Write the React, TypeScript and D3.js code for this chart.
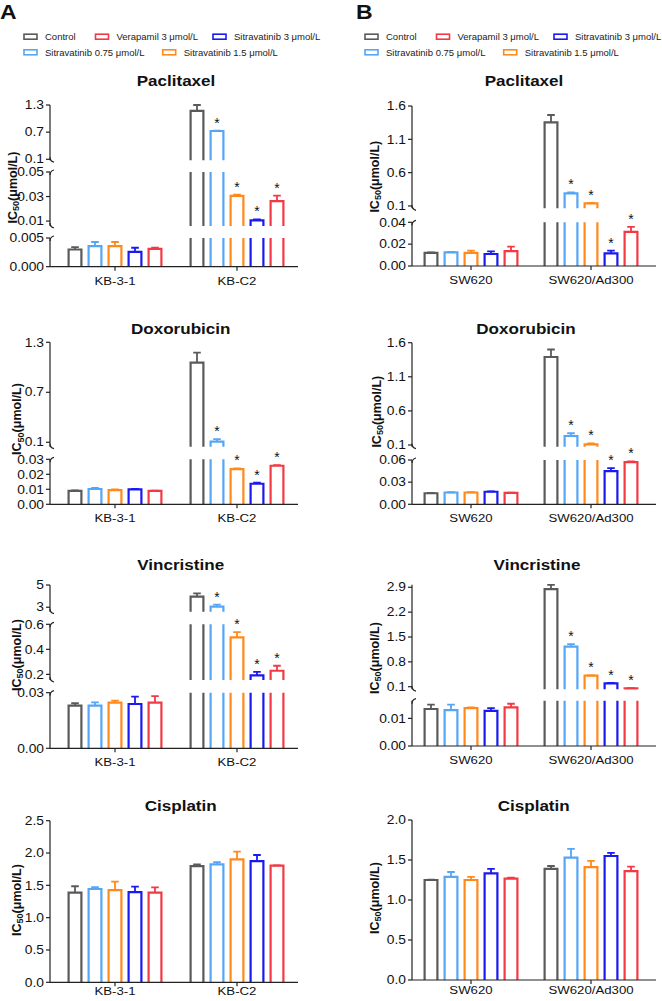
import React from 'react';
import * as d3 from 'd3';

// ---------- data ----------
const series = ['Control', 'Sitravatinib 0.75 μmol/L', 'Sitravatinib 1.5 μmol/L', 'Sitravatinib 3 μmol/L', 'Verapamil 3 μmol/L'];
const seriesColors = ['#5a5a5a', '#55a6f5', '#ff8a1c', '#1a1af0', '#f23a45'];
const groupsA = ['KB-3-1', 'KB-C2'];
const groupsB = ['SW620', 'SW620/Ad300'];
const drugs = ['Paclitaxel', 'Doxorubicin', 'Vincristine', 'Cisplatin'];

// values [group][series]
const pacA = [[0.0030, 0.0036, 0.0036, 0.0026, 0.0031], [1.17, 0.725, 0.0305, 0.0106, 0.0262]];
const pacAErr = [[0.0004, 0.0007, 0.0007, 0.0007, 0.0002], [0.14, 0.01, 0.001, 0.0008, 0.0046]];
const pacB = [[0.0121, 0.0125, 0.0121, 0.011, 0.0137], [1.355, 0.29, 0.14, 0.0116, 0.0313]];
const pacBErr = [[0.0003, 0.0003, 0.002, 0.0024, 0.004], [0.11, 0.015, 0.005, 0.0024, 0.0046]];
const doxA = [[0.0089, 0.0102, 0.0095, 0.0100, 0.0089], [1.055, 0.107, 0.0235, 0.0137, 0.0257]];
const doxAErr = [[0.0003, 0.0008, 0.0004, 0.0003, 0.0002], [0.12, 0.03, 0.0005, 0.0007, 0.0004]];
const doxB = [[0.015, 0.016, 0.016, 0.017, 0.0155], [1.39, 0.232, 0.11, 0.045, 0.057]];
const doxBErr = [[0.0003, 0.0003, 0.0003, 0.0004, 0.0002], [0.11, 0.04, 0.012, 0.004, 0.0012]];
const vinA = [[0.023, 0.023, 0.0246, 0.0239, 0.0246], [3.95, 3.05, 0.496, 0.192, 0.229]];
const vinAErr = [[0.0013, 0.0018, 0.0011, 0.004, 0.0035], [0.3, 0.18, 0.042, 0.028, 0.04]];
const vinB = [[0.0134, 0.013, 0.0137, 0.0127, 0.014], [2.85, 1.23, 0.41, 0.196, 0.055]];
const vinBErr = [[0.0016, 0.002, 0.0003, 0.001, 0.0013], [0.12, 0.07, 0.01, 0.01, 0.003]];
const cisA = [[1.386, 1.443, 1.427, 1.396, 1.386], [1.798, 1.825, 1.902, 1.876, 1.804]];
const cisAErr = [[0.1, 0.03, 0.13, 0.083, 0.083], [0.027, 0.035, 0.12, 0.093, 0.005]];
const cisB = [[1.25, 1.29, 1.25, 1.333, 1.266], [1.39, 1.53, 1.41, 1.55, 1.362]];
const cisBErr = [[0.005, 0.06, 0.04, 0.057, 0.014], [0.035, 0.11, 0.08, 0.04, 0.054]];

// significance stars: [group][series]
const starsResistant = [[0, 0, 0, 0, 0], [0, 1, 1, 1, 1]];
const starsNone = [[0, 0, 0, 0, 0], [0, 0, 0, 0, 0]];

// ---------- layout ----------
const FONT = '"Liberation Sans", Arial, Helvetica, sans-serif';
const SX = 1.15;

type Seg = { domain: [number, number]; range: [number, number]; ticks: number[]; fmt: string };
type PanelCfg = {
  title: string; titleX: number; titleY: number; ylabX: number; ylabY: number;
  values: number[][]; errs: number[][]; stars: number[][]; catDy: number; segs: Seg[];
};

const colA = { groups: groupsA, x0: 50, x1: 298, centers: [115, 237] as [number, number] };
const colB = { groups: groupsB, x0: 412, x1: 656, centers: [471, 591] as [number, number] };

const panelsA: PanelCfg[] = [
  {
    title: drugs[0], titleX: 176, titleY: 80.7, ylabX: 12, ylabY: 187.5, values: pacA, errs: pacAErr, stars: starsResistant, catDy: 14,
    segs: [
      { domain: [0, 0.005], range: [266.7, 238], ticks: [0, 0.005], fmt: '.3f' },
      { domain: [0.006, 0.05], range: [226, 172], ticks: [0.01, 0.03, 0.05], fmt: '.2f' },
      { domain: [0.08, 1.3], range: [160.2, 105], ticks: [0.1, 0.7, 1.3], fmt: '.1f' },
    ],
  },
  {
    title: drugs[1], titleX: 180.7, titleY: 328.3, ylabX: 16.5, ylabY: 419, values: doxA, errs: doxAErr, stars: starsResistant, catDy: 14,
    segs: [
      { domain: [0, 0.03], range: [504.3, 459.3], ticks: [0, 0.01, 0.02, 0.03], fmt: '.2f' },
      { domain: [0.047, 1.3], range: [446.7, 342.3], ticks: [0.1, 0.7, 1.3], fmt: '.1f' },
    ],
  },
  {
    title: drugs[2], titleX: 180.7, titleY: 564, ylabX: 16, ylabY: 655, values: vinA, errs: vinAErr, stars: starsResistant, catDy: 14,
    segs: [
      { domain: [0, 0.03], range: [748.3, 692.7], ticks: [0, 0.03], fmt: '.2f' },
      { domain: [0.155, 0.6], range: [680, 624.3], ticks: [0.2, 0.4, 0.6], fmt: '.1f' },
      { domain: [2.6, 5], range: [611.7, 585], ticks: [3, 5], fmt: 'd' },
    ],
  },
  {
    title: drugs[3], titleX: 180.7, titleY: 805, ylabX: 16, ylabY: 900, values: cisA, errs: cisAErr, stars: starsNone, catDy: 9,
    segs: [
      { domain: [0, 2.5], range: [982.3, 820.7], ticks: [0, 0.5, 1, 1.5, 2, 2.5], fmt: '.1f' },
    ],
  },
];

const panelsB: PanelCfg[] = [
  {
    title: drugs[0], titleX: 524, titleY: 80.7, ylabX: 374.3, ylabY: 176.7, values: pacB, errs: pacBErr, stars: starsResistant, catDy: 14,
    segs: [
      { domain: [0, 0.04], range: [266, 222.3], ticks: [0, 0.02, 0.04], fmt: '.2f' },
      { domain: [0.065, 1.6], range: [208.3, 106], ticks: [0.1, 0.6, 1.1, 1.6], fmt: '.1f' },
    ],
  },
  {
    title: drugs[1], titleX: 526, titleY: 328.3, ylabX: 376, ylabY: 411.7, values: doxB, errs: doxBErr, stars: starsResistant, catDy: 14,
    segs: [
      { domain: [0, 0.06], range: [504.3, 460], ticks: [0, 0.03, 0.06], fmt: '.2f' },
      { domain: [0.075, 1.6], range: [446.7, 342.7], ticks: [0.1, 0.6, 1.1, 1.6], fmt: '.1f' },
    ],
  },
  {
    title: drugs[2], titleX: 537, titleY: 564, ylabX: 374, ylabY: 658, values: vinB, errs: vinBErr, stars: starsResistant, catDy: 14,
    segs: [
      { domain: [0, 0.0164], range: [746, 700.7], ticks: [0, 0.01], fmt: '.2f' },
      { domain: [0.03, 2.97], range: [689.2, 584.8], ticks: [0.1, 0.8, 1.5, 2.2, 2.9], fmt: '.1f' },
    ],
  },
  {
    title: drugs[3], titleX: 533.7, titleY: 805, ylabX: 374.3, ylabY: 898, values: cisB, errs: cisBErr, stars: starsNone, catDy: 10,
    segs: [
      { domain: [0, 2], range: [980, 820], ticks: [0, 0.5, 1, 1.5, 2], fmt: '.1f' },
    ],
  },
];

// legend order: [series index, row, dx]
const legendItems: [number, number, number][] = [[0, 0, 0], [4, 0, 71.5], [3, 0, 189], [1, 1, 0], [2, 1, 138.7]];

const ST = ({ x, y, sx = SX, anchor = 'start', size = 11.5, weight = 'normal', children }: any) => (
  <text transform={`translate(${x},${y}) scale(${sx},1)`} textAnchor={anchor} fontSize={size}
    fontWeight={weight} fontFamily={FONT} fill="#111">{children}</text>
);

function Panel({ p, col }: { p: PanelCfg; col: typeof colA }) {
  const xg = d3.scalePoint<string>().domain(col.groups).range(col.centers);
  const xs = d3.scaleBand<string>().domain(series).range([-47.5, 47.5]).paddingInner(0.25);
  const bw = xs.bandwidth();
  const segs = p.segs.map((s) => ({ ...s, scale: d3.scaleLinear().domain(s.domain).range(s.range) }));
  const axisY = segs[0].range[0];
  const x0 = col.x0;
  const els: any[] = [];

  col.groups.forEach((g, gi) => {
    series.forEach((s, si) => {
      const v = p.values[gi][si];
      const e = p.errs[gi][si];
      const cx = (xg(g) as number) + (xs(s) as number) + bw / 2;
      const xl = cx - bw / 2 + 1.1;
      const xr = cx + bw / 2 - 1.1;
      const color = seriesColors[si];
      let home = 0;
      segs.forEach((sg, k) => {
        if (k > 0 && v <= sg.domain[0]) return;
        home = k;
        const yb = sg.scale(sg.domain[0]);
        const capped = v >= sg.domain[1];
        const yt = sg.scale(Math.min(v, sg.domain[1]));
        const d = capped ? `M${xl},${yb}V${yt}M${xr},${yb}V${yt}` : `M${xl},${yb}V${yt}H${xr}V${yb}`;
        els.push(<path key={`b${gi}-${si}-${k}`} d={d} fill="none" stroke={color} strokeWidth={2.2} />);
      });
      const hs = segs[home];
      const yv = hs.scale(v);
      const ye = hs.scale(Math.min(v + e, hs.domain[1]));
      els.push(<path key={`e${gi}-${si}`} d={`M${cx},${yv}V${ye}M${cx - 3.8},${ye}H${cx + 3.8}`} fill="none" stroke={color} strokeWidth={1.8} />);
      if (p.stars[gi][si]) {
        els.push(<text key={`s${gi}-${si}`} x={cx} y={ye - 3} textAnchor="middle" fontSize={14} fontFamily={FONT} fill="#111">*</text>);
      }
    });
  });

  const axis: any[] = [];
  segs.forEach((sg, k) => {
    const [yb, yt] = sg.range;
    axis.push(<line key={`ax${k}`} x1={x0} x2={x0} y1={yb} y2={yt} stroke="#222" strokeWidth={1.2} />);
    sg.ticks.forEach((t, ti) => {
      const y = sg.scale(t);
      axis.push(<line key={`t${k}-${ti}`} x1={x0 - 4} x2={x0} y1={y} y2={y} stroke="#222" strokeWidth={1.2} />);
      axis.push(<ST key={`tl${k}-${ti}`} x={x0 - 6} y={y + 4.2} anchor="end" size={12}>{d3.format(sg.fmt)(t)}</ST>);
    });
    if (k > 0) {
      axis.push(<path key={`hb${k}`} d={`M${x0},${yb - 3}Q${x0},${yb + 1} ${x0 + 4},${yb + 2}`} fill="none" stroke="#222" strokeWidth={1.2} />);
    }
    if (k < segs.length - 1) {
      axis.push(<path key={`ht${k}`} d={`M${x0},${yt + 3}Q${x0},${yt - 1} ${x0 + 4},${yt - 2}`} fill="none" stroke="#222" strokeWidth={1.2} />);
    }
  });
  axis.push(<line key="xax" x1={x0} x2={col.x1} y1={axisY} y2={axisY} stroke="#222" strokeWidth={1.2} />);
  col.groups.forEach((g, gi) => {
    const gx = xg(g) as number;
    axis.push(<line key={`xt${gi}`} x1={gx} x2={gx} y1={axisY} y2={axisY + 4} stroke="#222" strokeWidth={1.2} />);
    axis.push(<ST key={`xl${gi}`} x={gx} y={axisY + p.catDy + 4} anchor="middle">{g}</ST>);
  });

  return (
    <g>
      <ST x={p.titleX} y={p.titleY + 5.5} anchor="middle" size={15.5} weight="bold" sx={1.1}>{p.title}</ST>
      <text transform={`translate(${p.ylabX + 4.5},${p.ylabY}) rotate(-90)`} textAnchor="middle" fontSize={12.5}
        fontWeight="bold" fontFamily={FONT} fill="#111">
        IC<tspan fontSize={9} dy={2.5}>50</tspan><tspan dy={-2.5}>(μmol/L)</tspan>
      </text>
      {els}
      {axis}
    </g>
  );
}

function Legend({ x, letter, letterX }: { x: number; letter: string; letterX: number }) {
  const rows = [36.7, 52.3];
  return (
    <g>
      <ST x={letterX} y={18.5} size={20} weight="bold" sx={1.15}>{letter}</ST>
      {legendItems.map(([si, row, dx]) => (
        <g key={si}>
          <rect x={x + dx} y={rows[row] - 2.5} width={13} height={5} fill="#fff" stroke={seriesColors[si]} strokeWidth={1.6} />
          <text x={x + dx + 21} y={rows[row] + 3.4} fontSize={9.5} fontFamily={FONT} fill="#222">{series[si]}</text>
        </g>
      ))}
    </g>
  );
}

export default function App() {
  return (
    <svg width={662} height={1001} style={{ position: 'absolute', left: 0, top: 0, background: '#fff' }}>
      <rect width={662} height={1001} fill="#fff" />
      <Legend x={24} letter="A" letterX={0} />
      <Legend x={365} letter="B" letterX={356} />
      {panelsA.map((p, i) => <Panel key={`a${i}`} p={p} col={colA} />)}
      {panelsB.map((p, i) => <Panel key={`b${i}`} p={p} col={colB} />)}
    </svg>
  );
}
